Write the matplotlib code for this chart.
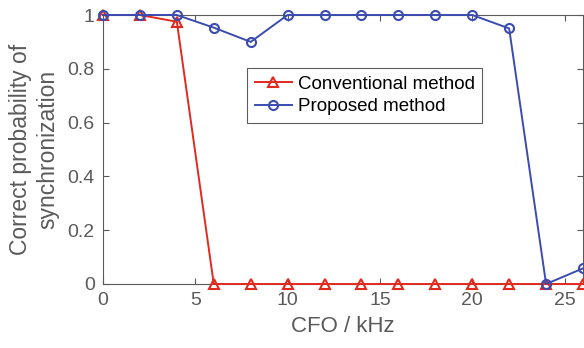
import numpy as np
import matplotlib
matplotlib.use('Agg')
import matplotlib.pyplot as plt

cfo = [0, 2, 4, 6, 8, 10, 12, 14, 16, 18, 20, 22, 24, 26]
conventional = [1, 1, 0.975, 0, 0, 0, 0, 0, 0, 0, 0, 0, 0, 0]
proposed = [1, 1, 1, 0.953, 0.90, 1, 1, 1, 1, 1, 1, 0.95, 0, 0.058]

plt.rcParams['font.family'] = ['Liberation Sans', 'DejaVu Sans']
grey = '#5a5a5a'

fig = plt.figure(figsize=(5.84, 3.48), dpi=100)
ax = fig.add_axes([103 / 584, 1 - 284 / 348, 480 / 584, 269 / 348])

ax.plot(cfo, conventional, color='#e02a1e', marker='^', markersize=7,
        markerfacecolor='none', markeredgewidth=1.5, linewidth=1.4,
        label='Conventional method', clip_on=False, zorder=3)
ax.plot(cfo, proposed, color='#3b4cb0', marker='o', markersize=6.5,
        markerfacecolor='none', markeredgewidth=1.5, linewidth=1.4,
        label='Proposed method', clip_on=False, zorder=3)

ax.set_xlim(0, 26)
ax.set_ylim(0, 1)
ax.set_xticks([0, 5, 10, 15, 20, 25])
ax.set_yticks([0, 0.2, 0.4, 0.6, 0.8, 1])
ax.set_yticklabels(['0', '0.2', '0.4', '0.6', '0.8', '1'])
ax.tick_params(direction='in', top=True, right=True, length=4, width=0.8,
               color=grey, labelcolor=grey, labelsize=14, pad=6)
for s in ax.spines.values():
    s.set_color(grey)
    s.set_linewidth(0.8)

ax.set_xlabel('CFO / kHz', fontsize=16, color=grey, labelpad=5)
ax.set_ylabel('Correct probability of\nsynchronization', fontsize=16.5,
              color=grey, labelpad=6, linespacing=1.2)

leg = ax.legend(loc='upper left', bbox_to_anchor=(144 / 480, 1 - 53 / 269),
                borderaxespad=0, fontsize=13.5, frameon=True, fancybox=False,
                handlelength=2.0, borderpad=0.4, labelspacing=0.3,
                handletextpad=0.3)
leg.get_frame().set_edgecolor('#333333')
leg.get_frame().set_linewidth(0.8)

fig.savefig('out.png', dpi=100)
